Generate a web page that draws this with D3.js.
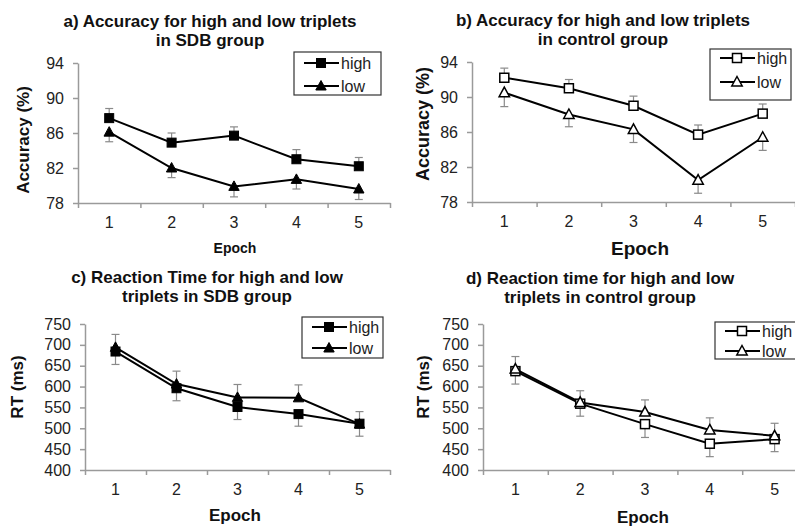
<!DOCTYPE html>
<html>
<head>
<meta charset="utf-8">
<script src="https://cdn.jsdelivr.net/npm/d3@7"></script>
<style>
  body { margin: 0; background: #fff; }
  svg { font-family: "Liberation Sans", Arial, sans-serif; }
</style>
</head>
<body>
<svg id="plot" width="795" height="526"></svg>
<script>
// values
var epochs = ["1", "2", "3", "4", "5"];
var seriesNames = ["high", "low"];

var accTicks = [78, 82, 86, 90, 94];
var rtTicks = [400, 450, 500, 550, 600, 650, 700, 750];

var accSdbHigh = [87.7, 84.9, 85.7, 83.0, 82.2];
var accSdbHighErr = [1.1, 1.1, 1.0, 1.1, 1.0];
var accSdbLow = [86.1, 82.0, 79.9, 80.7, 79.6];
var accSdbLowErr = [1.1, 1.1, 1.2, 1.1, 1.2];

var accCtrlHigh = [92.2, 91.0, 89.0, 85.7, 88.1];
var accCtrlHighErr = [1.1, 1.0, 1.1, 1.1, 1.1];
var accCtrlLow = [90.5, 88.0, 86.3, 80.5, 85.4];
var accCtrlLowErr = [1.6, 1.4, 1.5, 1.5, 1.5];

var rtSdbHigh = [684, 596, 551, 534, 511];
var rtSdbHighErr = [31, 30, 30, 29, 30];
var rtSdbLow = [694, 606, 574, 573, 510];
var rtSdbLowErr = [31, 31, 31, 31, 30];

var rtCtrlHigh = [637, 559, 510, 463, 474];
var rtCtrlHighErr = [31, 30, 32, 31, 30];
var rtCtrlLow = [642, 562, 539, 496, 482];
var rtCtrlLowErr = [30, 28, 29, 29, 30];

var svg = d3.select("#plot");

//one object per panel, layout in pixels
var panels = [
    {title: ["a) Accuracy for high and low triplets", "in SDB group"], tx: 210, ty: 21,
     ylab: "Accuracy (%)", ylx: 23, yly: 140, ylsize: 17,
     xlabSize: 14, xlx: 235, xly: 248,
     x0: 78, x1: 390, yTop: 63, yBot: 203, domain: [78, 94], ticks: accTicks,
     high: accSdbHigh, highErr: accSdbHighErr, low: accSdbLow, lowErr: accSdbLowErr,
     highDir: 1, lowDir: -1, filled: true,
     legend: {x: 294, y: 52, w: 87, h: 43, r1: 63, r2: 86}},
    {title: ["b) Accuracy for high and low triplets", "in control group"], tx: 603, ty: 20,
     ylab: "Accuracy (%)", ylx: 423, yly: 124, ylsize: 18,
     xlabSize: 19, xlx: 640, xly: 248,
     x0: 472, x1: 795, yTop: 62, yBot: 202, domain: [78, 94], ticks: accTicks,
     high: accCtrlHigh, highErr: accCtrlHighErr, low: accCtrlLow, lowErr: accCtrlLowErr,
     highDir: 1, lowDir: -1, filled: false,
     legend: {x: 710, y: 49, w: 81, h: 51, r1: 58, r2: 82}},
    {title: ["c) Reaction Time for high and low", "triplets in SDB group"], tx: 207, ty: 277,
     ylab: "RT (ms)", ylx: 17, yly: 387, ylsize: 17,
     xlabSize: 17, xlx: 235, xly: 515,
     x0: 85, x1: 390, yTop: 324, yBot: 470, domain: [400, 750], ticks: rtTicks,
     high: rtSdbHigh, highErr: rtSdbHighErr, low: rtSdbLow, lowErr: rtSdbLowErr,
     highDir: -1, lowDir: 1, filled: true,
     legend: {x: 302, y: 317, w: 81, h: 41, r1: 327, r2: 348}},
    {title: ["d) Reaction time for high and low", "triplets in control group"], tx: 600, ty: 278,
     ylab: "RT (ms)", ylx: 423, yly: 387, ylsize: 17,
     xlabSize: 17, xlx: 643, xly: 517,
     x0: 483, x1: 807, yTop: 324, yBot: 470, domain: [400, 750], ticks: rtTicks,
     high: rtCtrlHigh, highErr: rtCtrlHighErr, low: rtCtrlLow, lowErr: rtCtrlLowErr,
     highDir: -1, lowDir: 1, filled: false,
     legend: {x: 715, y: 322, w: 90, h: 37, r1: 331, r2: 351}}
];

var axisColor = "#9a9a9a";
var errColor = "#8a8a8a";

function marker(sel, kind, filled) {
    if (kind == "high") {
        sel.append("rect")
            .attr("x", -4.5).attr("y", -4.5)
            .attr("width", 9).attr("height", 9);
    } else {
        sel.append("path")
            .attr("d", "M0,-5.5L5.2,4L-5.2,4Z");
    }
    sel.selectAll("rect,path")
        .attr("fill", filled ? "#000" : "#fff")
        .attr("stroke", "#000")
        .attr("stroke-width", filled ? 1 : 1.5);
}

panels.forEach(function(p) {
    var g = svg.append("g");

    var x = d3.scaleBand().domain(epochs).range([p.x0, p.x1]).padding(0);
    var xb = d3.scaleLinear().domain([0, epochs.length]).range([p.x0, p.x1]);
    var y = d3.scaleLinear().domain(p.domain).range([p.yBot, p.yTop]);

    // title
    p.title.forEach(function(t, i) {
        g.append("text")
            .attr("x", p.tx).attr("y", p.ty + i * 19 + 6)
            .attr("text-anchor", "middle")
            .style("font-size", "17px").style("font-weight", "bold")
            .style("fill", "#111")
            .text(t);
    });

    // y axis
    var ya = g.append("g")
        .attr("transform", "translate(" + p.x0 + ",0)")
        .call(d3.axisLeft(y).tickValues(p.ticks).tickSize(5).tickSizeOuter(0).tickPadding(9));
    ya.select(".domain").attr("stroke", axisColor).attr("stroke-width", 1.5);
    ya.selectAll(".tick line").attr("stroke", axisColor).attr("stroke-width", 1.5);
    ya.selectAll(".tick text").style("font-size", "16px").style("fill", "#222")
        .attr("font-family", null);

    // x axis: tick marks between epochs, labels at centers
    var xa = g.append("g")
        .attr("transform", "translate(0," + p.yBot + ")")
        .call(d3.axisBottom(xb).ticks(epochs.length).tickSize(5).tickSizeOuter(0).tickFormat(""));
    xa.select(".domain").attr("stroke", axisColor).attr("stroke-width", 1.5);
    xa.selectAll(".tick line").attr("stroke", axisColor).attr("stroke-width", 1.5);

    var xl = g.append("g")
        .attr("transform", "translate(0," + p.yBot + ")")
        .call(d3.axisBottom(x).tickSize(0).tickPadding(14));
    xl.select(".domain").remove();
    xl.selectAll(".tick text").style("font-size", "16px").style("fill", "#222")
        .attr("font-family", null);

    // axis titles
    g.append("text")
        .attr("transform", "translate(" + p.ylx + "," + p.yly + ") rotate(-90)")
        .attr("text-anchor", "middle").attr("dy", "0.35em")
        .style("font-size", p.ylsize + "px").style("font-weight", "bold")
        .style("fill", "#111")
        .text(p.ylab);

    g.append("text")
        .attr("x", p.xlx).attr("y", p.xly).attr("dy", "0.35em")
        .attr("text-anchor", "middle")
        .style("font-size", p.xlabSize + "px").style("font-weight", "bold")
        .style("fill", "#111")
        .text("Epoch");

    var series = [
        {name: "high", vals: p.high, err: p.highErr, dir: p.highDir},
        {name: "low", vals: p.low, err: p.lowErr, dir: p.lowDir}
    ];

    var cx = function(i) { return x(epochs[i]) + x.bandwidth() / 2; };

    // error bars (one direction per series)
    series.forEach(function(s) {
        var eb = g.append("g").attr("stroke", errColor).attr("stroke-width", 1.2);
        s.vals.forEach(function(v, i) {
            var yEnd = y(v + s.dir * s.err[i]);
            eb.append("line").attr("x1", cx(i)).attr("x2", cx(i))
                .attr("y1", y(v)).attr("y2", yEnd);
            eb.append("line").attr("x1", cx(i) - 4).attr("x2", cx(i) + 4)
                .attr("y1", yEnd).attr("y2", yEnd);
        });
    });

    var line = d3.line()
        .x(function(d, i) { return cx(i); })
        .y(function(d) { return y(d); });

    series.forEach(function(s) {
        g.append("path")
            .datum(s.vals)
            .attr("d", line)
            .attr("fill", "none")
            .attr("stroke", "#000")
            .attr("stroke-width", 2);
    });

    series.forEach(function(s) {
        g.selectAll(".m-" + s.name)
            .data(s.vals)
            .enter().append("g")
            .attr("class", "m-" + s.name)
            .attr("transform", function(d, i) { return "translate(" + cx(i) + "," + y(d) + ")"; })
            .each(function() { marker(d3.select(this), s.name, p.filled); });
    });

    // legend
    var L = p.legend;
    g.append("rect")
        .attr("x", L.x).attr("y", L.y).attr("width", L.w).attr("height", L.h)
        .attr("fill", "#fff").attr("stroke", "#333").attr("stroke-width", 1.2);
    [L.r1, L.r2].forEach(function(ry, i) {
        var lx = L.x + 10;
        g.append("line")
            .attr("x1", lx).attr("x2", lx + 35)
            .attr("y1", ry).attr("y2", ry)
            .attr("stroke", "#000").attr("stroke-width", 2);
        g.append("g")
            .attr("transform", "translate(" + (lx + 17) + "," + ry + ")")
            .each(function() { marker(d3.select(this), seriesNames[i], p.filled); });
        g.append("text")
            .attr("x", lx + 37).attr("y", ry).attr("dy", "0.35em")
            .style("font-size", "16px").style("fill", "#222")
            .text(seriesNames[i]);
    });
});
</script>
</body>
</html>
